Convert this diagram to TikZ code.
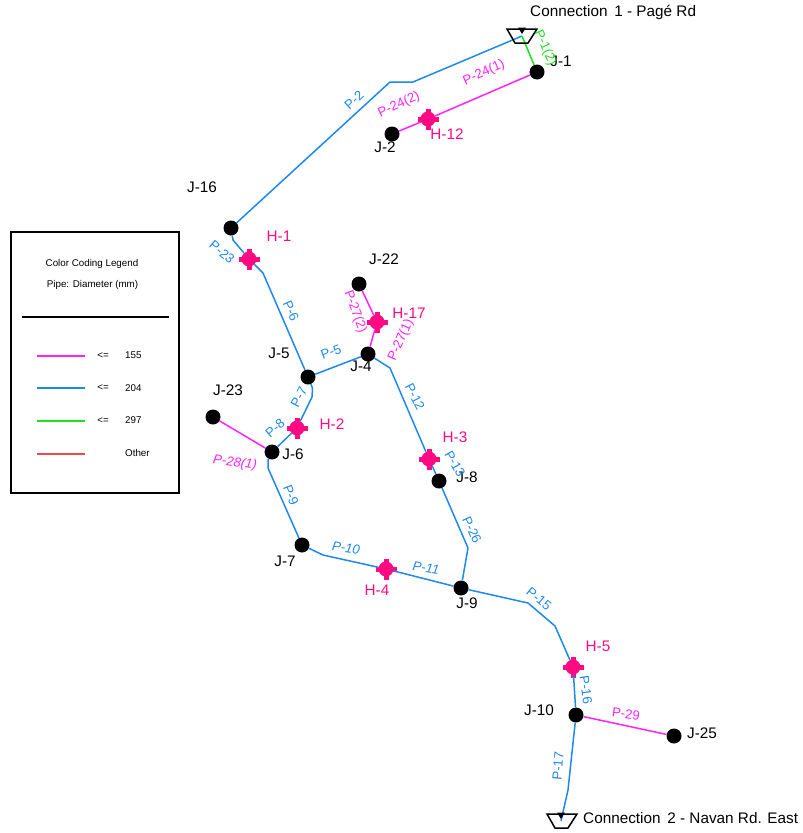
\documentclass[tikz,border=0pt]{standalone}
\usepackage{fontspec}
\setmainfont{Liberation Sans}
\definecolor{pmag}{HTML}{FF22FF}
\definecolor{pblue}{HTML}{1E88F0}
\definecolor{pgreen}{HTML}{1EE01E}
\definecolor{pred}{HTML}{F04848}
\definecolor{hpink}{HTML}{FF0A82}
\tikzset{
  x=1pt,y=-1pt,
  junction/.style={circle,fill=black,inner sep=0pt,minimum size=15pt},
  hydrant/.style={circle,fill=hpink,inner sep=0pt,minimum size=15pt},
  bluepipe/.style={draw=pblue,line width=1.5pt,line join=round},
  magpipe/.style={draw=pmag,line width=1.5pt},
  greenpipe/.style={draw=pgreen,line width=1.5pt},
  jlabel/.style={font=\fontsize{15.3}{16}\selectfont,text=black,inner sep=0pt},
  hlabel/.style={font=\fontsize{15.3}{16}\selectfont,text=hpink,inner sep=0pt},
  blab/.style={font=\fontsize{13.2}{13}\selectfont,text=pblue,inner sep=0pt},
  mlab/.style={font=\fontsize{13.2}{13}\selectfont,text=pmag,inner sep=0pt},
  glab/.style={font=\fontsize{13.2}{13}\selectfont,text=pgreen,inner sep=0pt},
  legtext/.style={font=\fontsize{9.8}{10}\selectfont,text=black,inner sep=0pt},
  tank/.style={draw=black,line width=1.5pt,line join=miter},
}
\begin{document}
\begin{tikzpicture}
\useasboundingbox (0,0) rectangle (803,833);
% nodes
\node[junction] (J1) at (537,72) {};
\node[junction] (J2) at (392,134) {};
\node[junction] (J16) at (231,228) {};
\node[junction] (J22) at (359,284) {};
\node[junction] (J4) at (368,354) {};
\node[junction] (J5) at (308,377) {};
\node[junction] (J23) at (213,417) {};
\node[junction] (J6) at (272,452) {};
\node[junction] (J8) at (439,481) {};
\node[junction] (J7) at (302,545) {};
\node[junction] (J9) at (461,588) {};
\node[junction] (J10) at (576,715) {};
\node[junction] (J25) at (674,736) {};
\node[hydrant] (H12) at (428,119) {};
\node[hydrant] (H1) at (249,259) {};
\node[hydrant] (H17) at (377,322) {};
\node[hydrant] (H2) at (297,428) {};
\node[hydrant] (H3) at (429,459) {};
\node[hydrant] (H4) at (386,569) {};
\node[hydrant] (H5) at (573,667) {};
\foreach \h in {H12,H1,H17,H2,H3,H4,H5}{
  \fill[hpink] ([xshift=-10.5pt,yshift=-2.5pt]\h.center) rectangle ([xshift=10.5pt,yshift=2.5pt]\h.center);
  \fill[hpink] ([xshift=-2.5pt,yshift=-10.5pt]\h.center) rectangle ([xshift=2.5pt,yshift=10.5pt]\h.center);
}
\coordinate (R1) at (522,36);
\coordinate (R2) at (561,821);
% pipes
\draw[bluepipe] (R1) -- (413,82) -- (390,82) -- (J16);
\draw[greenpipe] (R1) -- (J1);
\draw[magpipe] (J1) -- (H12);
\draw[magpipe] (H12) -- (J2);
\draw[bluepipe] (J16) -- (233,240) -- (H1);
\draw[bluepipe] (H1) -- (263,273) -- (J5);
\draw[bluepipe] (J5) -- (J4);
\draw[magpipe] (J22) -- (H17);
\draw[magpipe] (H17) -- (J4);
\draw[bluepipe] (J4) -- (390,368) -- (H3);
\draw[bluepipe] (H3) -- (J8);
\draw[bluepipe] (J8) -- (468,548) -- (J9);
\draw[bluepipe] (J5) -- (312.5,388) -- (312,397) -- (H2);
\draw[bluepipe] (H2) -- (J6);
\draw[magpipe] (J23) -- (J6);
\draw[bluepipe] (J6) -- (268,460) -- (268,468) -- (J7);
\draw[bluepipe] (J7) -- (323,555) -- (H4);
\draw[bluepipe] (H4) -- (J9);
\draw[bluepipe] (J9) -- (528,603) -- (555,626) -- (H5);
\draw[bluepipe] (H5) -- (J10);
\draw[magpipe] (J10) -- (J25);
\draw[bluepipe] (J10) -- (568,790) -- (R2);
% reservoirs
\draw[tank] (507,29) -- (537,29) -- (528,43) -- (515,43) -- cycle;
\fill[black] (518,27.5) -- (526,27.5) -- (522,34) -- cycle;
\draw[tank] (547,814) -- (577,814) -- (568,828) -- (555,828) -- cycle;
\fill[black] (557,812.5) -- (565,812.5) -- (561,819) -- cycle;
% junction labels
\node[jlabel,anchor=west] (tC1) at (530,12) {Connection\, 1 - Pagé Rd};
\node[jlabel,anchor=west] (tC2) at (583,818) {Connection\, 2 - Navan Rd. East};
\node[jlabel] (tJ1) at (561,61) {J-1};
\node[jlabel] (tJ2) at (385,147) {J-2};
\node[jlabel] (tJ16) at (202,187) {J-16};
\node[jlabel] (tJ22) at (384,259) {J-22};
\node[jlabel] (tJ5) at (279,353) {J-5};
\node[jlabel] (tJ4) at (361,366) {J-4};
\node[jlabel] (tJ23) at (228,390) {J-23};
\node[jlabel] (tJ6) at (293,454) {J-6};
\node[jlabel] (tJ8) at (467,477) {J-8};
\node[jlabel] (tJ7) at (285,561) {J-7};
\node[jlabel] (tJ9) at (467,603) {J-9};
\node[jlabel] (tJ10) at (539,710) {J-10};
\node[jlabel] (tJ25) at (702,733) {J-25};
% hydrant labels
\node[hlabel] (tH12) at (447,134) {H-12};
\node[hlabel] (tH1) at (279,236) {H-1};
\node[hlabel] (tH17) at (409,313) {H-17};
\node[hlabel] (tH2) at (332,424) {H-2};
\node[hlabel] (tH3) at (455,437) {H-3};
\node[hlabel] (tH4) at (377,590) {H-4};
\node[hlabel] (tH5) at (598,646) {H-5};
% pipe labels
\node[glab,rotate=-66] (tP1) at (545,48) {P-1(2)};
\node[mlab,rotate=24] (tP24a) at (484,73) {P-24(1)};
\node[mlab,rotate=24] (tP24b) at (399,105) {P-24(2)};
\node[blab,rotate=43] (tP2) at (354,100) {P-2};
\node[blab,rotate=-40] (tP23) at (222,252) {P-23};
\node[blab,rotate=-65] (tP6) at (291,311) {P-6};
\node[blab,rotate=20] (tP5) at (331,352) {P-5};
\node[mlab,rotate=-70] (tP27b) at (355,312) {P-27(2)};
\node[mlab,rotate=66] (tP27a) at (401,340) {P-27(1)};
\node[blab,rotate=-63] (tP12) at (415,397) {P-12};
\node[blab,rotate=62] (tP7) at (299,397) {P-7};
\node[blab,rotate=40] (tP8) at (275,428) {P-8};
\node[mlab,rotate=-8,font=\fontsize{13.2}{13}\selectfont\itshape] (tP28) at (235,463) {P-28(1)};
\node[blab,rotate=-60] (tP13) at (455,464) {P-13};
\node[blab,rotate=-68] (tP9) at (291,495) {P-9};
\node[blab,rotate=-65] (tP26) at (472,530) {P-26};
\node[blab,rotate=-8,font=\fontsize{13.2}{13}\selectfont\itshape] (tP10) at (346,548) {P-10};
\node[blab,rotate=-8,font=\fontsize{13.2}{13}\selectfont\itshape] (tP11) at (426,568) {P-11};
\node[blab,rotate=-40] (tP15) at (539,599) {P-15};
\node[blab,rotate=-82] (tP16) at (586,690) {P-16};
\node[mlab,rotate=-8] (tP29) at (626,714) {P-29};
\node[blab,rotate=85] (tP17) at (558,766) {P-17};
% legend
\node[draw=black,line width=1.5pt,fill=none,minimum width=168pt,minimum height=261pt,inner sep=0pt] (leg) at (95,362.5) {};
\node[legtext] (lt1) at (92,264) {Color Coding Legend};
\node[legtext] (lt2) at (92.5,284.5) {Pipe: Diameter (mm)};
\coordinate (ruleA) at (22,317);
\coordinate (ruleB) at (169,317);
\draw[black,line width=1.2pt] (ruleA) -- (ruleB);
\coordinate (sa1) at (37,356); \coordinate (sb1) at (85,356);
\coordinate (sa2) at (37,388); \coordinate (sb2) at (85,388);
\coordinate (sa3) at (37,421); \coordinate (sb3) at (85,421);
\coordinate (sa4) at (37,454); \coordinate (sb4) at (85,454);
\draw[magpipe] (sa1) -- (sb1);
\draw[bluepipe] (sa2) -- (sb2);
\draw[greenpipe] (sa3) -- (sb3);
\draw[draw=pred,line width=1.5pt] (sa4) -- (sb4);
\node[legtext] (le1) at (103,355.5) {<=};
\node[legtext] (le2) at (103,388) {<=};
\node[legtext] (le3) at (103,420.5) {<=};
\node[legtext,anchor=west] (lv1) at (125,355) {155};
\node[legtext,anchor=west] (lv2) at (125,388) {204};
\node[legtext,anchor=west] (lv3) at (125,420.5) {297};
\node[legtext,anchor=west] (lv4) at (125,453) {Other};
\end{tikzpicture}
\end{document}
